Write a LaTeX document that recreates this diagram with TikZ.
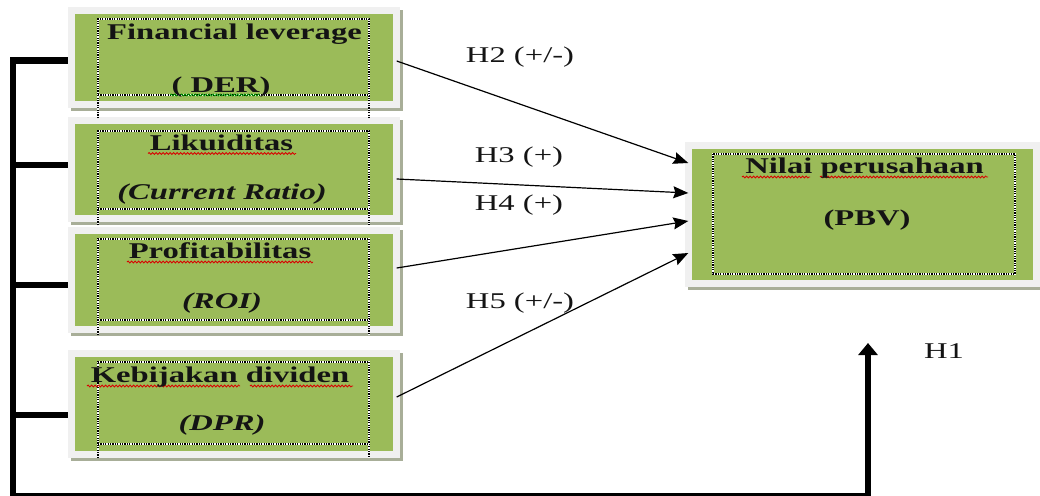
\documentclass[tikz,border=0pt]{standalone}
\usepackage{fontspec}
\setmainfont{Liberation Serif}[FakeStretch=1.45]
\usetikzlibrary{arrows.meta,decorations.pathmorphing}

\definecolor{boxgreen}{HTML}{9BBB59}
\definecolor{framegray}{HTML}{F0F0F0}
\definecolor{shadowgray}{HTML}{A8AE98}
\definecolor{inkblack}{HTML}{141414}

\tikzset{
  varbox/.style={draw=none, fill=none, inner sep=0pt},
  boxtext/.style={anchor=base, inner sep=0pt, text=inkblack,
    font=\fontsize{22.5pt}{27pt}\selectfont\bfseries},
  hyptext/.style={anchor=base, inner sep=0pt, text=inkblack,
    font=\fontsize{22.5pt}{27pt}\selectfont},
  dots/.style={preaction={draw=white, solid, line width=1.5pt},
    draw=black, line width=1.5pt, dash pattern=on 1.2pt off 1.2pt},
  hyp/.style={draw=black, line width=1.2pt,
    -{Stealth[length=15pt, width=12pt, inset=2pt]}},
  rail/.style={draw=black, line width=6pt, line join=miter},
  squiggle/.style={draw=red!85!black, line width=0.8pt,
    decorate, decoration={snake, amplitude=1pt, segment length=3.5pt}},
  okquiggle/.style={draw=green!60!black, line width=0.8pt,
    decorate, decoration={snake, amplitude=1pt, segment length=3.5pt}},
}

\begin{document}
\begin{tikzpicture}[x=1pt, y=-1pt]
\useasboundingbox (0,0) rectangle (1040,495);
\clip (0,0) rectangle (1040,495);

% rail that joins the four independent variables and runs to H1
\coordinate (railtop) at (12.5,60.5);
\coordinate (railbot) at (12.5,495.5);
\coordinate (h1foot) at (868,495.5);
\coordinate (h1tip) at (868,343);

% variable boxes (outline of the frame centre line)
\node[varbox, minimum width=325pt, minimum height=94pt]  (der) at (234,57.5) {};
\node[varbox, minimum width=325pt, minimum height=98pt]  (liq) at (234,169.5) {};
\node[varbox, minimum width=325pt, minimum height=99pt]  (roi) at (234,280) {};
\node[varbox, minimum width=325pt, minimum height=101pt] (dpr) at (234,404) {};
\node[varbox, minimum width=348pt, minimum height=138pt] (pbv) at (862.5,214.5) {};

% shadows
\foreach \b in {der,liq,roi,dpr,pbv}
  \fill[shadowgray] ([shift={(-0.5pt,0.5pt)}]\b.north west) rectangle ([shift={(6.5pt,-6.5pt)}]\b.south east);

% rail with its branches
\draw[rail] ([yshift=-3pt]der.west) -- (railtop) -- (railbot) -- (h1foot);
\draw[rail, -{Triangle[length=12pt, width=19pt]}] ([yshift=-3pt]h1foot) -- (h1tip);
\draw[rail] ([yshift=5pt]liq.west) -- ([yshift=5pt]liq.west -| railtop);
\draw[rail] ([yshift=-4.5pt]roi.west) -- ([yshift=-4.5pt]roi.west -| railtop);
\draw[rail] ([yshift=-10.5pt]dpr.west) -- ([yshift=-10.5pt]dpr.west -| railtop);

% frames and green faces
\foreach \b in {der,liq,roi,dpr,pbv}{
  \draw[framegray, line width=7pt] (\b.north west) rectangle (\b.south east);
  \fill[boxgreen] ([shift={(3.5pt,-3.5pt)}]\b.north west) rectangle ([shift={(-3.5pt,3.5pt)}]\b.south east);
}

% dotted text frames
\draw[dots] (98,118) -- (98,19) -- (369,19) -- (369,118);
\draw[dots] (98,95) -- (369,95);
\draw[dots] (98,225) -- (98,131) -- (369,131) -- (369,225);
\draw[dots] (98,209) -- (369,209);
\draw[dots] (98,335) -- (98,239) -- (369,239) -- (369,335);
\draw[dots] (98,320) -- (369,320);
\draw[dots] (98,458) -- (98,362) -- (369,362) -- (369,458);
\draw[dots] (98,444) -- (369,444);
\draw[dots] (713,154) rectangle (1015,274);

% spelling marks under the names
\draw[okquiggle] (170,95) -- (260,95);
\draw[squiggle] (148,153.5) -- (296,153.5);
\draw[squiggle] (127,262) -- (313,262);
\draw[squiggle] (87,386) -- (240,386);
\draw[squiggle] (250,386) -- (353,386);
\draw[squiggle] (742,177) -- (810,177);
\draw[squiggle] (820,177) -- (988,177);

% box texts
\node[boxtext] (derA) at (234.5,40) {Financial leverage};
\node[boxtext] (derB) at (221,92) {( DER)};
\node[boxtext] (liqA) at (221.5,150) {Likuiditas};
\node[boxtext] (liqB) at (222,199) {\itshape (Current Ratio)};
\node[boxtext] (roiA) at (220,258) {Profitabilitas};
\node[boxtext] (roiB) at (222,308) {\itshape (ROI)};
\node[boxtext] (dprA) at (220,382) {Kebijakan dividen};
\node[boxtext] (dprB) at (222,430) {\itshape (DPR)};
\node[boxtext] (pbvA) at (864.5,173) {Nilai perusahaan};
\node[boxtext] (pbvB) at (867,225) {(PBV)};

% hypotheses
\draw[hyp] ([yshift=-3.5pt]der.east) -- ([yshift=51.5pt]pbv.west);
\draw[hyp] ([yshift=-9.5pt]liq.east) -- ([yshift=21.5pt]pbv.west);
\draw[hyp] ([yshift=12pt]roi.east) -- ([yshift=-6.5pt]pbv.west);
\draw[hyp] ([yshift=7pt]dpr.east) -- ([yshift=-38.5pt]pbv.west);

\node[hyptext] (h2) at (520,63) {H2 (+/-)};
\node[hyptext] (h3) at (519,162) {H3 (+)};
\node[hyptext] (h4) at (519,210) {H4 (+)};
\node[hyptext] (h5) at (520,308) {H5 (+/-)};
\node[hyptext] (h1) at (944,358) {H1};
\end{tikzpicture}
\end{document}
